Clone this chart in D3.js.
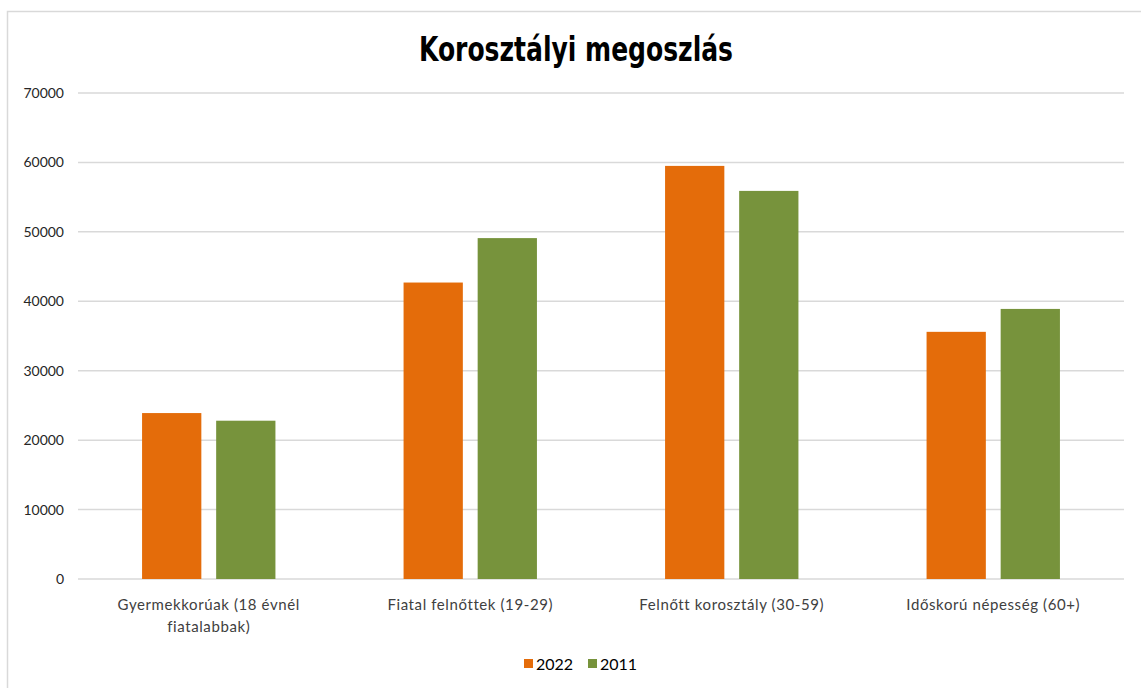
<!DOCTYPE html>
<html>
<head>
<meta charset="utf-8">
<script src="https://cdn.jsdelivr.net/npm/d3@7"></script>
<style>
  body { margin: 0; background: #fff; }
  #container svg { display: block; }
</style>
</head>
<body>
<div id="container"></div>
<script>
// chart data
const title = "Korosztályi megoszlás";
const categories = [
  ["Gyermekkorúak (18 évnél", "fiatalabbak)"],
  ["Fiatal felnőttek (19-29)"],
  ["Felnőtt korosztály (30-59)"],
  ["Időskorú népesség (60+)"]
];
const seriesNames = ["2022", "2011"];
const values2022 = [23900, 42700, 59500, 35600];
const values2011 = [22800, 49100, 55900, 38900];
const yTicks = [0, 10000, 20000, 30000, 40000, 50000, 60000, 70000];
const colors = ["#e46c0a", "#77933c"];

const width = 1141, height = 688;
const margin = { top: 93, right: 17, bottom: 109, left: 78 };
const wid = width - margin.left - margin.right;
const hei = height - margin.top - margin.bottom;

const svg = d3.select("#container")
  .append("svg")
  .attr("width", width)
  .attr("height", height);

// outer chart border
svg.append("rect")
  .attr("x", 7.5).attr("y", 11.5)
  .attr("width", width).attr("height", height)
  .attr("fill", "none")
  .attr("stroke", "#d9d9d9")
  .attr("stroke-width", 1.5);

svg.append("text")
  .attr("x", 576).attr("y", 61)
  .attr("text-anchor", "middle")
  .attr("textLength", 314)
  .attr("lengthAdjust", "spacingAndGlyphs")
  .style("font-family", "'DejaVu Sans Condensed', 'DejaVu Sans', sans-serif")
  .style("font-weight", "bold")
  .style("font-size", "34px")
  .attr("fill", "#000")
  .text(title);

const g = svg.append("g")
  .attr("transform", `translate(${margin.left},${margin.top})`);

const x0 = d3.scaleBand()
  .domain(d3.range(categories.length))
  .range([0, wid])
  .paddingInner(0.49)
  .paddingOuter(0.245);

const x1 = d3.scaleBand()
  .domain(seriesNames)
  .range([0, x0.bandwidth()])
  .paddingInner(0.2);

const yScale = d3.scaleLinear()
  .domain([0, 70000])
  .range([hei, 0]);

// gridlines
g.append("g")
  .selectAll("line")
  .data(yTicks)
  .join("line")
  .attr("x1", 0).attr("x2", wid)
  .attr("y1", d => yScale(d)).attr("y2", d => yScale(d))
  .attr("stroke", "#d9d9d9")
  .attr("stroke-width", 1.5);

// y axis labels
const yAxis = g.append("g")
  .call(d3.axisLeft(yScale).tickValues(yTicks).tickSize(0).tickPadding(14).tickFormat(d3.format("d")));
yAxis.select(".domain").remove();
yAxis.selectAll("text")
  .style("font-family", "Lato, 'Open Sans', sans-serif")
  .style("font-size", "14px")
  .attr("fill", "#262626");

// bars
const rows = categories.map((c, i) => ({ i, vals: [values2022[i], values2011[i]] }));
g.append("g")
  .selectAll("g")
  .data(rows)
  .join("g")
  .attr("transform", d => `translate(${x0(d.i)},0)`)
  .selectAll("rect")
  .data(d => d.vals.map((v, k) => ({ key: seriesNames[k], v, k })))
  .join("rect")
  .attr("x", d => x1(d.key))
  .attr("y", d => yScale(d.v))
  .attr("width", x1.bandwidth())
  .attr("height", d => hei - yScale(d.v))
  .attr("fill", d => colors[d.k]);

// category labels
const xl = g.append("g")
  .selectAll("text")
  .data(categories)
  .join("text")
  .attr("x", (d, i) => x0(i) + x0.bandwidth() / 2)
  .attr("y", hei + 31)
  .attr("text-anchor", "middle")
  .style("font-family", "Lato, 'Open Sans', sans-serif")
  .style("font-size", "15px")
  .style("letter-spacing", "0.6px")
  .attr("fill", "#404040");
xl.selectAll("tspan")
  .data(d => d)
  .join("tspan")
  .attr("x", function () { return this.parentNode.getAttribute("x"); })
  .attr("dy", (d, j) => j === 0 ? 0 : 22)
  .text(d => d);

// legend
const legend = svg.append("g").attr("transform", "translate(524,670)");
const items = legend.selectAll("g")
  .data(seriesNames)
  .join("g")
  .attr("transform", (d, i) => `translate(${i * 64},0)`);
items.append("rect")
  .attr("x", 0).attr("y", -11)
  .attr("width", 9).attr("height", 9)
  .attr("fill", (d, i) => colors[i]);
items.append("text")
  .attr("x", 12).attr("y", 0)
  .style("font-family", "Lato, 'Open Sans', sans-serif")
  .style("font-size", "16px")
  .attr("fill", "#000")
  .text(d => d);
</script>
</body>
</html>
